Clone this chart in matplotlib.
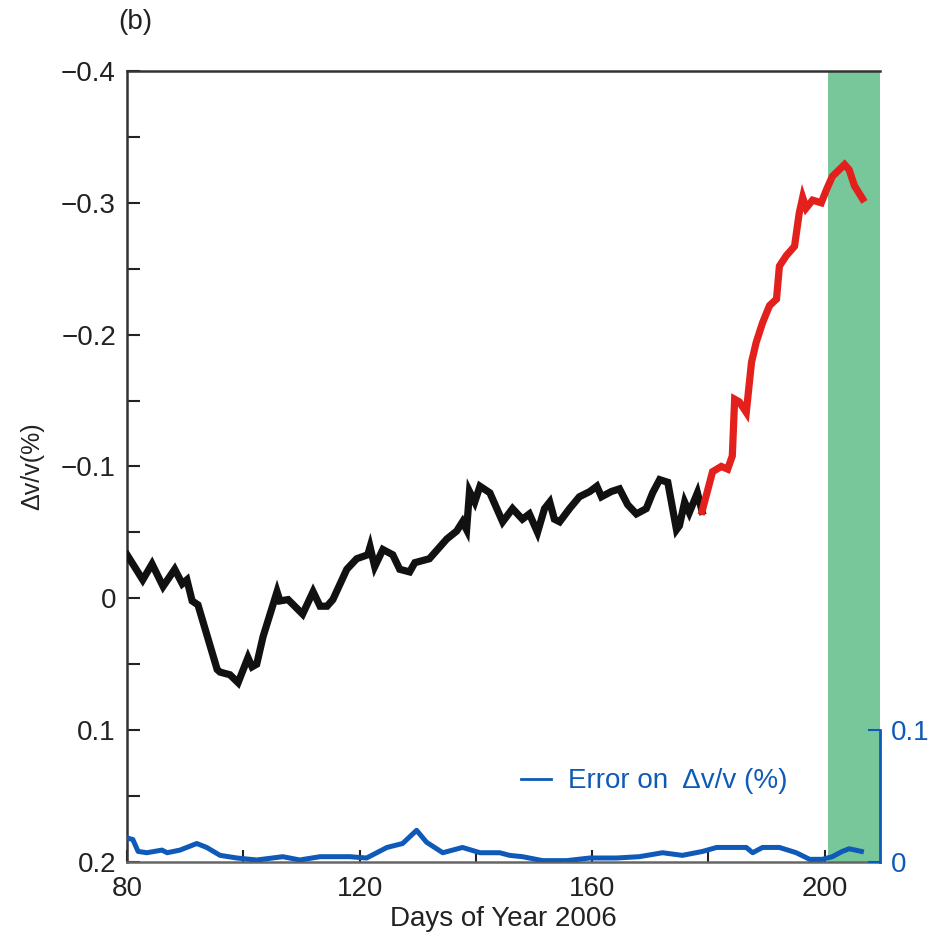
import matplotlib
matplotlib.use("Agg")
import matplotlib.pyplot as plt
from matplotlib import font_manager

# ---------------- data ----------------
days_black = [80, 82.7, 84.3, 86.2, 88.2, 89.5, 90.3, 91.2, 92.2, 95.5, 96, 97.7, 99.1,
              100.8, 101.5, 102.3, 103.4, 105.8, 106.3, 107.7, 110.2, 112, 113.2, 114.4,
              115.4, 117.8, 119.5, 121.4, 121.8, 122.6, 124, 125.7, 126.9, 128.6, 129.5,
              132, 133.8, 135, 136.7, 137.7, 138.4, 138.9, 139.8, 140.7, 142.4, 144.6,
              146.3, 148, 149.2, 150.6, 151.8, 152.7, 153.5, 154.4, 156.1, 157.8, 159.6,
              160.8, 161.6, 163.3, 164.7, 166.1, 167.6, 169.3, 170.4, 171.6, 173, 174.5,
              175, 175.9, 176.7, 178.1, 178.9]
dvv_black = [-0.033, -0.014, -0.026, -0.009, -0.022, -0.011, -0.014, 0.002, 0.005, 0.054,
             0.056, 0.058, 0.064, 0.045, 0.052, 0.050, 0.029, -0.005, 0.002, 0.001, 0.012,
             -0.005, 0.006, 0.006, 0.001, -0.022, -0.030, -0.033, -0.039, -0.024, -0.037,
             -0.033, -0.022, -0.020, -0.027, -0.030, -0.039, -0.045, -0.051, -0.058,
             -0.052, -0.081, -0.073, -0.085, -0.080, -0.058, -0.068, -0.060, -0.064,
             -0.050, -0.068, -0.073, -0.060, -0.058, -0.068, -0.077, -0.081, -0.085,
             -0.077, -0.081, -0.083, -0.071, -0.064, -0.068, -0.080, -0.090, -0.088,
             -0.052, -0.055, -0.073, -0.065, -0.080, -0.066]

days_red = [178.9, 180.7, 182.2, 183.3, 184.1, 184.5, 185.3, 186.5, 187.4, 188.2, 189.3,
            190.5, 191.7, 192.2, 193.4, 194.8, 195.6, 196.2, 196.8, 197.9, 199.4, 200.3,
            201.3, 203.4, 204.2, 205.1, 206.5]
dvv_red = [-0.066, -0.096, -0.100, -0.098, -0.108, -0.151, -0.149, -0.141, -0.179, -0.194,
           -0.209, -0.222, -0.227, -0.252, -0.260, -0.267, -0.292, -0.304, -0.296, -0.302,
           -0.300, -0.310, -0.320, -0.329, -0.325, -0.313, -0.303]

days_err = [80.2, 81, 81.9, 83.4, 86, 86.9, 89.1, 92, 93.7, 96, 98.9, 102.3, 106.8, 109.7,
            113.2, 118.3, 121.2, 124.7, 127.4, 129.8, 131.5, 134.3, 137.7, 140.7, 144.1,
            145.8, 148, 151.5, 155.6, 159.6, 164.2, 168.1, 172.1, 175.5, 179, 181.4, 184.1,
            186.5, 187.6, 189.3, 192.2, 195.1, 197.4, 199.6, 201.3, 203, 204.2, 206.3]
err = [0.018, 0.017, 0.008, 0.007, 0.009, 0.007, 0.009, 0.014, 0.011, 0.005, 0.003, 0.0015,
       0.004, 0.0015, 0.004, 0.004, 0.003, 0.011, 0.014, 0.024, 0.015, 0.007, 0.011, 0.007,
       0.007, 0.005, 0.004, 0.001, 0.001, 0.003, 0.003, 0.004, 0.007, 0.005, 0.008, 0.011,
       0.011, 0.011, 0.007, 0.011, 0.011, 0.007, 0.002, 0.002, 0.004, 0.008, 0.010, 0.008]

eruption_span = (200.5, 209.5)

x_ticks = [80, 100, 120, 140, 160, 180, 200]
x_labels = ["80", "", "120", "", "160", "", "200"]
y_ticks = [-0.4, -0.3, -0.2, -0.1, 0.0, 0.1, 0.2]
y_labels = ["\u22120.4", "\u22120.3", "\u22120.2", "\u22120.1", "0", "0.1", "0.2"]
y_minor = [-0.35, -0.25, -0.15, -0.05, 0.05, 0.15]
err_ticks = [0.0, 0.1]
err_labels = ["0", "0.1"]

# ---------------- style ----------------
names = {f.name for f in font_manager.fontManager.ttflist}
fam = "Liberation Sans Narrow" if "Liberation Sans Narrow" in names else "Liberation Sans"
plt.rcParams["font.family"] = [fam, "DejaVu Sans"]
FS = 21 if fam == "Liberation Sans Narrow" else 20

BLUE = "#0f5ab8"
fig = plt.figure(figsize=(9.53, 9.41), dpi=100)
ax = fig.add_axes([0.1333, 0.0840, 0.7901, 0.8406])

ax.axvspan(*eruption_span, color="#78c79a", lw=0, zorder=0)
ax.plot(days_black, dvv_black, color="#111111", lw=5.2, solid_joinstyle="miter", zorder=3)
ax.plot(days_red, dvv_red, color="#e3201c", lw=5.2, solid_joinstyle="miter", zorder=3)

ax.set_xlim(80, 209.5)
ax.set_ylim(0.2, -0.4)
ax.set_xticks(x_ticks)
ax.set_xticklabels(x_labels)
ax.set_yticks(y_ticks)
ax.set_yticklabels(y_labels)
ax.set_yticks(y_minor, minor=True)
ax.tick_params(axis="both", which="both", direction="in", length=9, width=1.5,
               labelsize=FS, colors="#222222")
ax.tick_params(axis="y", pad=8)
ax.tick_params(axis="x", pad=10)
ax.spines["right"].set_visible(False)
for s in ["left", "top", "bottom"]:
    ax.spines[s].set_linewidth(1.8)
    ax.spines[s].set_color("#333333")
ax.spines["bottom"].set_color("#666666")

ax.set_xlabel("Days of Year 2006", fontsize=FS, color="#222222", labelpad=3)
ax.set_ylabel("\u0394v/v(%)", fontsize=FS - 2, color="#222222", labelpad=12)

ax2 = ax.twinx()
ax2.plot(days_err, err, color=BLUE, lw=3.6, zorder=3, label="Error on  \u0394v/v (%)")
ax2.set_ylim(0, 0.6)
ax2.set_yticks(err_ticks)
ax2.set_yticklabels(err_labels)
for s in ["left", "top", "bottom"]:
    ax2.spines[s].set_visible(False)
ax2.spines["right"].set_bounds(0, 0.1)
ax2.spines["right"].set_color(BLUE)
ax2.spines["right"].set_linewidth(2)
ax2.tick_params(axis="y", direction="in", length=9, width=1.5, colors=BLUE,
                labelsize=FS, labelcolor=BLUE, pad=8)

leg = ax2.legend(loc="center", bbox_to_anchor=(0.70, 0.102), frameon=False,
                 fontsize=FS, handlelength=1.1, handletextpad=0.6)
for t in leg.get_texts():
    t.set_color(BLUE)
for h in leg.legend_handles:
    h.set_linewidth(2)

fig.text(0.124, 0.977, "(b)", fontsize=FS, color="#222222", va="center")

fig.savefig("out.png", dpi=100)
